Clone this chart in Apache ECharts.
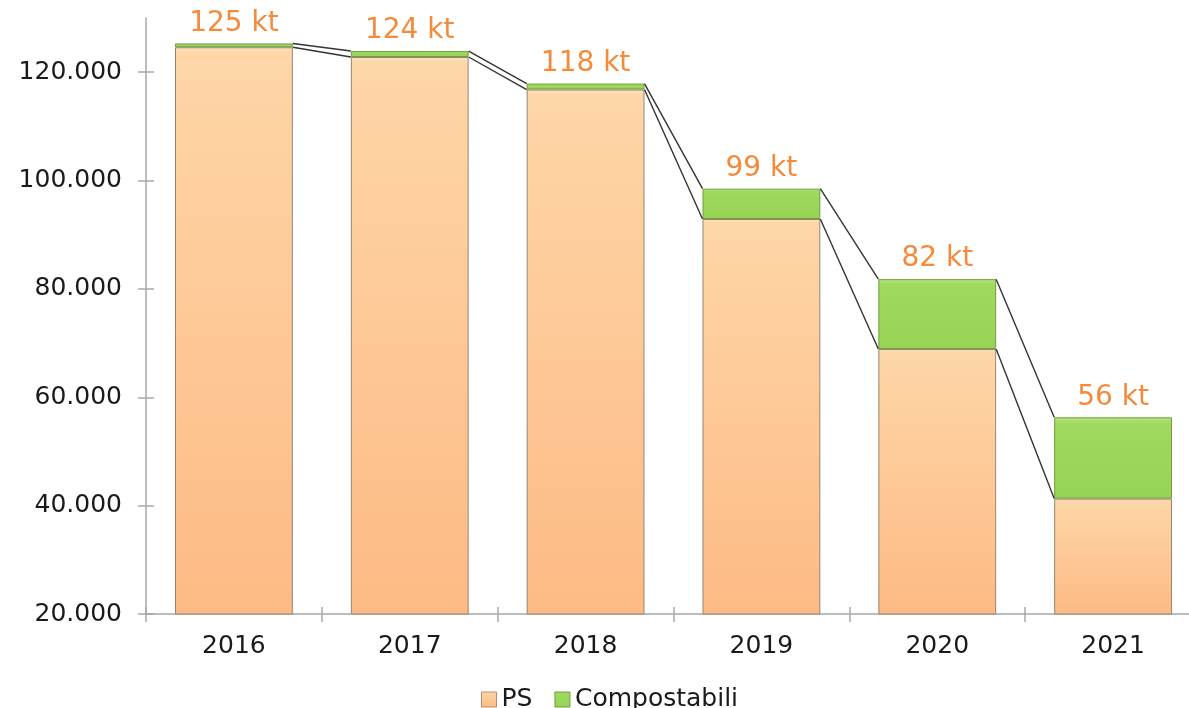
<!DOCTYPE html>
<html>
<head>
<meta charset="utf-8">
<script src="https://cdn.jsdelivr.net/npm/echarts@6/dist/echarts.min.js"></script>
<style>
  html, body { margin: 0; padding: 0; background: #fff; }
  #chart { width: 1189px; height: 708px; }
</style>
</head>
<body>
<div id="chart"></div>
<script>
var years = ['2016', '2017', '2018', '2019', '2020', '2021'];
var psValues = [124600, 122800, 116800, 92900, 68900, 41300];
var compostValues = [700, 1100, 1100, 5600, 12900, 15000];
var totalLabels = ['125 kt', '124 kt', '118 kt', '99 kt', '82 kt', '56 kt'];
var yTicks = [20000, 40000, 60000, 80000, 100000, 120000];

var myChart = echarts.init(document.getElementById('chart'));

// righe di collegamento tra le barre (come le "linee serie" di Excel)
var linkData = [];
for (var i = 0; i < years.length - 1; i++) {
    linkData.push([i, psValues[i], psValues[i] + compostValues[i],
        psValues[i + 1], psValues[i + 1] + compostValues[i + 1]]);
}

var font = 'DejaVu Sans';
var axisGrey = '#a8a8a8';

var option = {
    animation: false,
    textStyle: { fontFamily: font },
    grid: { left: 146, width: 1055, top: 18, bottom: 94, outerBoundsMode: 'none' },
    legend: {
        left: 476,
        top: 682,
        icon: 'rect',
        itemWidth: 15,
        itemHeight: 15,
        itemGap: 22,
        textStyle: { fontSize: 25, color: '#1a1a1a', fontFamily: font },
        data: [
            { name: 'PS', itemStyle: { borderColor: '#b09070', borderWidth: 1 } },
            { name: 'Compostabili', itemStyle: { borderColor: '#6f9e3e', borderWidth: 1 } }
        ]
    },
    xAxis: [{
        type: 'category',
        data: years,
        axisLine: { lineStyle: { color: axisGrey, width: 1.5 } },
        axisTick: { show: true, length: 8, lineStyle: { color: axisGrey, width: 1.5 } },
        axisLabel: { fontSize: 25, color: '#1a1a1a', margin: 20, fontFamily: font }
    }, {
        type: 'category',
        offset: 0,
        data: years,
        position: 'bottom',
        axisLine: { show: false },
        axisTick: { show: true, inside: true, length: 7, lineStyle: { color: axisGrey, width: 1.5 } },
        axisLabel: { show: false }
    }],
    yAxis: [{
        type: 'value',
        min: 20000,
        max: 130000,
        interval: 20000,
        splitLine: { show: false },
        axisLine: { show: true, lineStyle: { color: axisGrey, width: 1.5 } },
        axisTick: { show: true, length: 8, customValues: yTicks, lineStyle: { color: axisGrey, width: 1.5 } },
        axisLabel: {
            fontSize: 25, color: '#1a1a1a', margin: 24, fontFamily: font,
            customValues: yTicks,
            formatter: function (v) { return (v / 1000) + '.000'; }
        }
    }, {
        type: 'value',
        offset: 0,
        min: 20000,
        max: 130000,
        interval: 20000,
        position: 'left',
        splitLine: { show: false },
        axisLine: { show: false },
        axisTick: { show: true, inside: true, length: 8, customValues: yTicks, lineStyle: { color: axisGrey, width: 1.5 } },
        axisLabel: { show: false, customValues: yTicks }
    }],
    series: [
        {
            name: 'PS',
            type: 'bar',
            stack: 'tot',
            barWidth: '67%',
            data: psValues,
            itemStyle: {
                color: new echarts.graphic.LinearGradient(0, 0, 0, 1, [
                    { offset: 0, color: '#ffe2bd' },
                    { offset: 0.012, color: '#fed6a8' },
                    { offset: 1, color: '#fdba84' }
                ]),
                borderColor: '#9a8470',
                borderWidth: 1
            }
        },
        {
            name: 'Compostabili',
            type: 'bar',
            stack: 'tot',
            barWidth: '67%',
            data: compostValues,
            itemStyle: {
                color: new echarts.graphic.LinearGradient(0, 0, 0, 1, [
                    { offset: 0, color: '#b6e680' },
                    { offset: 0.08, color: '#9fda5e' },
                    { offset: 1, color: '#97d355' }
                ]),
                borderColor: '#6f9e3e',
                borderWidth: 1
            },
            label: {
                show: true,
                position: 'top',
                distance: 6,
                fontSize: 28,
                color: '#f58a3a',
                fontFamily: font,
                formatter: function (p) { return totalLabels[p.dataIndex]; }
            }
        },
        {
            name: 'linee',
            type: 'custom',
            xAxisIndex: 1,
            yAxisIndex: 1,
            silent: true,
            z: 5,
            encode: { x: 0, y: [1, 2, 3, 4] },
            data: linkData,
            renderItem: function (params, api) {
                var idx = api.value(0);
                var half = api.size([1, 0])[0] * 0.67 / 2;
                var a1 = api.coord([idx, api.value(1)]);
                var a2 = api.coord([idx, api.value(2)]);
                var b1 = api.coord([idx + 1, api.value(3)]);
                var b2 = api.coord([idx + 1, api.value(4)]);
                var st = { stroke: '#333333', lineWidth: 1.4 };
                return {
                    type: 'group',
                    children: [
                        { type: 'line', shape: { x1: a1[0] + half, y1: a1[1], x2: b1[0] - half, y2: b1[1] }, style: st },
                        { type: 'line', shape: { x1: a2[0] + half, y1: a2[1], x2: b2[0] - half, y2: b2[1] }, style: st }
                    ]
                };
            }
        }
    ]
};

myChart.setOption(option);
</script>
</body>
</html>
